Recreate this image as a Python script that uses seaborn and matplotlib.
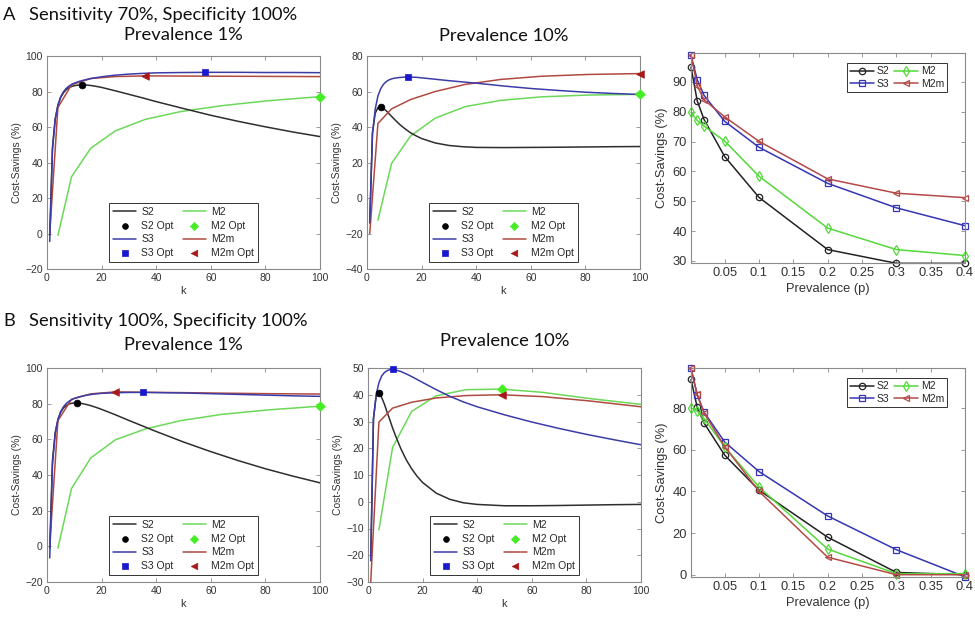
import matplotlib
matplotlib.use("Agg")
import matplotlib.pyplot as plt
import seaborn as sns

# ---------------- data ----------------
K = [1, 2, 3, 4, 5, 6, 7, 8, 9, 10, 12, 14, 16, 18, 20, 25, 30, 35, 40, 50, 60, 70, 80, 90, 100]
KSQ = [1, 4, 9, 16, 25, 36, 49, 64, 81, 100]
KM2 = [4, 9, 16, 25, 36, 49, 64, 81, 100]

# Panel A, prevalence 1%
A1_S2 = [-1, 48.6, 64.6, 72.2, 76.6, 79.2, 81.0, 82.1, 82.8, 83.3, 83.7, 83.7, 83.4, 82.9, 82.3,
         80.4, 78.4, 76.4, 74.3, 70.4, 66.6, 63.2, 60.1, 57.2, 54.6]
A1_S3 = [-4.5, 47, 64, 72.3, 77, 79.8, 81.7, 83, 84, 84.7, 85.8, 86.6, 87.3, 87.8, 88.3,
         89.2, 89.8, 90.2, 90.5, 90.7, 90.8, 90.8, 90.7, 90.7, 90.6]
A1_M2 = [-1, 32, 48, 57.8, 64.3, 68.7, 72, 74.8, 77.1]
A1_M2m = [0, 71, 83.8, 87.3, 88.4, 88.8, 88.7, 88.6, 88.5, 88.4]
A1_OPT_K = [13, 58, 100, 36]          # S2, S3, M2, M2m
A1_OPT_V = [83.7, 90.8, 77.1, 88.8]

# Panel A, prevalence 10%
A2_S2 = [-14, 36.7, 47.7, 50.9, 51.3, 50.5, 49.2, 47.6, 46.0, 44.4, 41.4, 38.9, 36.7, 35.0, 33.5,
         31.0, 29.6, 28.9, 28.5, 28.4, 28.5, 28.6, 28.75, 28.9, 29.0]
A2_S3 = [-14, 36, 50, 57.5, 61.5, 64, 65.5, 66.5, 67.1, 67.5, 67.9, 68.1, 68.1, 68.0, 67.7,
         66.9, 66.1, 65.4, 64.7, 63.1, 61.7, 60.6, 59.6, 58.9, 58.3]
A2_M2 = [-12.5, 19.5, 35, 45, 51.5, 55, 57, 58, 58.4]
A2_M2m = [-20, 42, 50.2, 55.5, 60, 64, 66.8, 68.6, 69.6, 70.1]
A2_OPT_K = [5, 15, 100, 100]
A2_OPT_V = [51.3, 68.1, 58.4, 70.1]

# Panel B, prevalence 1%
B1_S2 = [-1, 48.0, 63.7, 71.1, 75.1, 77.5, 78.9, 79.8, 80.2, 80.4, 80.3, 79.7, 78.9, 77.9, 76.8,
         73.8, 70.6, 67.5, 64.4, 58.5, 53.1, 48.1, 43.5, 39.4, 35.6]
B1_S3 = [-6.5, 46, 63, 71, 75.5, 78.2, 80, 81.3, 82.2, 82.9, 83.9, 84.6, 85.1, 85.5, 85.8,
         86.1, 86.3, 86.3, 86.2, 86.0, 85.6, 85.2, 84.8, 84.4, 84.1]
B1_M2 = [-1, 32.5, 49.5, 59.7, 65.8, 70.5, 74, 76.5, 78.6]
B1_M2m = [0, 70.5, 82.5, 85.5, 86.6, 86.4, 86.2, 85.9, 85.6, 85.4]
B1_OPT_K = [11, 35, 100, 25]
B1_OPT_V = [80.4, 86.3, 78.6, 86.6]

# Panel B, prevalence 10%
B2_S2 = [-22, 31.0, 39.6, 40.6, 39.0, 36.5, 33.5, 30.6, 27.6, 24.9, 19.9, 15.7, 12.3, 9.5, 7.2,
         3.2, 0.9, -0.4, -1.0, -1.5, -1.5, -1.4, -1.25, -1.1, -1.0]
B2_S3 = [-22, 31, 40, 44.5, 47, 48.3, 49, 49.4, 49.5, 49.3, 48.7, 47.8, 46.8, 45.7, 44.6,
         41.9, 39.4, 37.3, 35.5, 32.5, 29.8, 27.4, 25.2, 23.2, 21.3]
B2_M2 = [-10.5, 20.3, 33.8, 39.6, 41.9, 42.1, 40.9, 38.6, 36.4]
B2_M2m = [-30, 29.8, 35, 37.2, 38.8, 39.7, 40.0, 39.3, 37.7, 35.5]
B2_OPT_K = [4, 9, 49, 49]
B2_OPT_V = [40.6, 49.5, 42.1, 40.0]

# Right panels: optimum savings vs prevalence
P = [0.001, 0.01, 0.02, 0.05, 0.1, 0.2, 0.3, 0.4]
A3_S2 = [95, 83.7, 77.4, 65, 51.3, 33.8, 29.2, 29.2]
A3_S3 = [99, 90.8, 85.5, 76.8, 68.1, 56, 47.8, 41.8]
A3_M2 = [79.8, 77.1, 75.2, 70.2, 58.4, 41, 33.8, 31.8]
A3_M2m = [99, 88.8, 84, 78.3, 70.1, 57.5, 52.7, 51.2]
B3_S2 = [93.7, 80.4, 72.8, 57.4, 40.6, 18, 1.1, 0]
B3_S3 = [99, 86.3, 78, 63.7, 49.5, 28.2, 12, -1]
B3_M2 = [80, 78.6, 75, 61.4, 42.1, 12.3, 0.5, 0.5]
B3_M2m = [99, 86.6, 77.6, 61.5, 40, 8.4, 0, 0]

SERIES = ["S2", "S3", "M2", "M2m"]
P_TICKS = [0.05, 0.1, 0.15, 0.2, 0.25, 0.3, 0.35, 0.4]
P_TICKLABELS = ["0.05", "0.1", "0.15", "0.2", "0.25", "0.3", "0.35", "0.4"]

# ---------------- style ----------------
sns.set_theme(style="white")
plt.rcParams["font.family"] = ["Liberation Sans", "DejaVu Sans"]

LINE_C = {"S2": "#2e2e2e", "S3": "#3c3ca8", "M2": "#6cd85a", "M2m": "#b04a40"}
MARK_C = {"S2": "#000000", "S3": "#1818cc", "M2": "#44ee22", "M2m": "#a81818"}
MARK = {"S2": "o", "S3": "s", "M2": "D", "M2m": "<"}
RC = {"S2": "#222222", "S3": "#3535b5", "M2": "#55d83a", "M2m": "#b44a48"}
RMARK = {"S2": "o", "S3": "s", "M2": "d", "M2m": "<"}
SPINE = "#8a8a8a"
TXT = "#333333"
HEAD = "Lato"
HSIZE = 13.2

fig = plt.figure(figsize=(9.75, 6.17), dpi=100)


def rect(l, t, r, b):
    return [l / 975, 1 - b / 617, (r - l) / 975, (b - t) / 617]


def style_axes(ax, fs):
    for s in ax.spines.values():
        s.set_color(SPINE)
        s.set_linewidth(0.8)
    ax.tick_params(direction="in", length=3, width=0.6, colors=SPINE, labelcolor=TXT,
                   labelsize=fs, top=True, right=True, bottom=True, left=True, pad=3)


def k_panel(ax, s2, s3, m2, m2m, opt_k, opt_v, ylim, yticks):
    vals = {"S2": (K, s2), "S3": (K, s3), "M2": (KM2, m2), "M2m": (KSQ, m2m)}
    z = {"S2": 3, "S3": 4, "M2": 2, "M2m": 3.5}
    for i, name in enumerate(SERIES):
        x, y = vals[name]
        sns.lineplot(x=x, y=y, ax=ax, color=LINE_C[name], linewidth=1.1, label=name,
                     estimator=None, sort=False, zorder=z[name])
        sns.scatterplot(x=[opt_k[i]], y=[opt_v[i]], ax=ax, marker=MARK[name],
                        color=MARK_C[name], edgecolor=MARK_C[name],
                        s=24 if name != "M2m" else 30,
                        linewidth=0.5, label=name + " Opt", zorder=6, clip_on=False)
    ax.set_xlim(0, 100)
    ax.set_ylim(*ylim)
    ax.set_xticks([0, 20, 40, 60, 80, 100])
    ax.set_yticks(yticks)
    style_axes(ax, 7.5)
    ax.set_xlabel("k", fontsize=8, color=TXT, labelpad=2)
    ax.set_ylabel("Cost-Savings (%)", fontsize=7.5, color=TXT, labelpad=2)
    h, l = ax.get_legend_handles_labels()
    d = dict(zip(l, h))
    order = ["S2", "S2 Opt", "S3", "S3 Opt", "M2", "M2 Opt", "M2m", "M2m Opt"]
    leg = ax.legend([d[o] for o in order], order, ncol=2, loc="lower center",
                    bbox_to_anchor=(0.5, 0.035), borderaxespad=0, fontsize=7.5,
                    frameon=True, fancybox=False, framealpha=1, edgecolor="#333333",
                    handlelength=2.2, handletextpad=0.5, columnspacing=0.9,
                    labelspacing=0.35, borderpad=0.35, scatterpoints=1, markerscale=0.85)
    leg.get_frame().set_linewidth(0.7)


def p_panel(ax, s2, s3, m2, m2m, ylim, yticks):
    vals = {"S2": s2, "S3": s3, "M2": m2, "M2m": m2m}
    for name in ["S2", "S3", "M2", "M2m"]:
        sns.lineplot(x=P, y=vals[name], ax=ax, color=RC[name], linewidth=1.1, label=name,
                     marker=RMARK[name], markersize=4.6 if name != "M2" else 5.2,
                     markerfacecolor="none", markeredgecolor=RC[name], markeredgewidth=0.9,
                     estimator=None, sort=False, clip_on=False)
    ax.set_xlim(0.001, 0.4)
    ax.set_ylim(*ylim)
    ax.set_xticks(P_TICKS)
    ax.set_xticklabels(P_TICKLABELS)
    ax.set_yticks(yticks)
    style_axes(ax, 9.3)
    ax.set_xlabel("Prevalence (p)", fontsize=9.3, color=TXT, labelpad=3)
    ax.set_ylabel("Cost-Savings (%)", fontsize=9.3, color=TXT, labelpad=3)
    h, l = ax.get_legend_handles_labels()
    d = dict(zip(l, h))
    order = ["S2", "S3", "M2", "M2m"]
    leg = ax.legend([d[o] for o in order], order, ncol=2, loc="upper right",
                    bbox_to_anchor=(0.935, 0.952), borderaxespad=0, fontsize=7.5,
                    frameon=True, fancybox=False, framealpha=1, edgecolor="#333333",
                    handlelength=2.3, handletextpad=0.3, columnspacing=0.4,
                    labelspacing=0.25, borderpad=0.3)
    leg.get_frame().set_linewidth(0.7)


axA1 = fig.add_axes(rect(47, 56, 320, 269))
axA2 = fig.add_axes(rect(367, 56, 640, 269))
axA3 = fig.add_axes(rect(691, 53, 965, 263))
axB1 = fig.add_axes(rect(47, 368, 320, 582))
axB2 = fig.add_axes(rect(368, 368, 641, 582))
axB3 = fig.add_axes(rect(691, 368, 965, 577))

k_panel(axA1, A1_S2, A1_S3, A1_M2, A1_M2m, A1_OPT_K, A1_OPT_V, (-20, 100), [-20, 0, 20, 40, 60, 80, 100])
k_panel(axA2, A2_S2, A2_S3, A2_M2, A2_M2m, A2_OPT_K, A2_OPT_V, (-40, 80), [-40, -20, 0, 20, 40, 60, 80])
k_panel(axB1, B1_S2, B1_S3, B1_M2, B1_M2m, B1_OPT_K, B1_OPT_V, (-20, 100), [-20, 0, 20, 40, 60, 80, 100])
k_panel(axB2, B2_S2, B2_S3, B2_M2, B2_M2m, B2_OPT_K, B2_OPT_V, (-30, 50), [-30, -20, -10, 0, 10, 20, 30, 40, 50])
p_panel(axA3, A3_S2, A3_S3, A3_M2, A3_M2m, (29.3, 99.7), [30, 40, 50, 60, 70, 80, 90])
p_panel(axB3, B3_S2, B3_S3, B3_M2, B3_M2m, (-1.1, 99.2), [0, 20, 40, 60, 80])

# titles / headers
def ftext(x, y, s, size, ha="left"):
    fig.text(x / 975, 1 - y / 617, s, fontsize=size, ha=ha, va="center",
             family=[HEAD, "DejaVu Sans"], color="#111111")

ftext(3, 15, "A", HSIZE)
ftext(29, 15, "Sensitivity 70%, Specificity 100%", HSIZE)
ftext(183.5, 35, "Prevalence 1%", HSIZE, ha="center")
ftext(503.5, 36, "Prevalence 10%", HSIZE, ha="center")
ftext(3, 321, "B", HSIZE)
ftext(29, 321, "Sensitivity 100%, Specificity 100%", HSIZE)
ftext(183.5, 345, "Prevalence 1%", HSIZE, ha="center")
ftext(504.5, 341, "Prevalence 10%", HSIZE, ha="center")

fig.savefig("out.png", dpi=100)
